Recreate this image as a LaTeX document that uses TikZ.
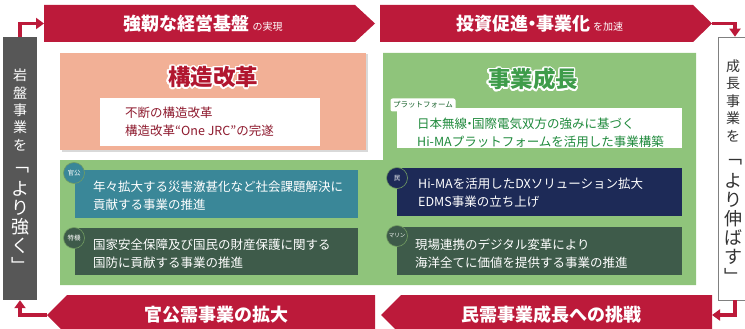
\documentclass[tikz,border=0pt]{standalone}
\usepackage{fontspec}
\setmainfont{Noto Sans CJK JP}
\usepackage[copies]{contour}
\contourlength{1.4pt}
\contournumber{20}
\usetikzlibrary{arrows.meta,shadows}
\definecolor{bannerred}{RGB}{188,26,58}
\definecolor{salmon}{RGB}{242,176,150}
\definecolor{leafgreen}{RGB}{143,196,123}
\definecolor{rockgray}{RGB}{87,87,87}
\definecolor{kanteal}{RGB}{58,135,152}
\definecolor{minnavy}{RGB}{29,42,87}
\definecolor{deepgreen}{RGB}{62,91,74}
\definecolor{titlered}{RGB}{177,22,47}
\definecolor{titlegreen}{RGB}{62,156,74}
\definecolor{textred}{RGB}{142,26,46}
\definecolor{textgreen}{RGB}{31,138,60}
\newcommand{\tdot}{\kern-0.3em・\kern-0.3em}
\tikzset{
  flow/.style={draw=bannerred, line width=3.5pt, -{Triangle[length=8pt,width=11pt]}},
  bannertext/.style={text=white, inner sep=0pt, font=\fontsize{18}{20}\selectfont\bfseries},
  boxtitle/.style={inner sep=0pt, font=\fontsize{22.5}{24}\selectfont\bfseries},
  itemtext/.style={anchor=west, align=left, inner sep=0pt, font=\fontsize{12.5}{18}\selectfont},
  badge/.style={circle, minimum size=21pt, inner sep=0pt, draw=leafgreen!80!black, line width=0.6pt, text=white, font=\fontsize{6.5}{7}\selectfont},
  vchar/.style={inner sep=0pt, font=\fontsize{14}{14}\selectfont},
  vbig/.style={inner sep=0pt, font=\fontsize{18}{18}\selectfont}
}
\begin{document}
\begin{tikzpicture}[x=1pt, y=-1pt]
\useasboundingbox (0,0) rectangle (745,329);
\coordinate (kyoujin-in) at (44,23.5); \coordinate (toushi-tip) at (712,23.5);
\coordinate (minju-in) at (712,315); \coordinate (kankou-tip) at (47,315);
\fill[bannerred] (44,5) -- (355,5) -- (375,23.5) -- (355,42) -- (44,42) -- cycle;
\fill[bannerred] (380,5) -- (693,5) -- (712,23.5) -- (693,42) -- (380,42) -- cycle;
\fill[bannerred] (47,315) -- (67,295) -- (375,295) -- (375,335) -- (67,335) -- cycle;
\fill[bannerred] (381,315) -- (401,295) -- (712,295) -- (712,335) -- (401,335) -- cycle;
\node[bannertext] (kyoujin) at (203,23.5) {強靭な経営基盤\,{\fontsize{10}{12}\selectfont\mdseries の実現}};
\node[bannertext] (toushi) at (540,23.5) {投資促進\tdot 事業化\,{\fontsize{10}{12}\selectfont\mdseries を加速}};
\node[bannertext] (kankou) at (216,315) {官公需事業の拡大};
\node[bannertext] (minju) at (551,315) {民需事業成長への挑戦};
\node[fill=rockgray, minimum width=34pt, minimum height=263pt, inner sep=0pt] (iwaban) at (20,168.5) {};
\node[fill=white, draw=gray, line width=0.6pt, minimum width=34pt, minimum height=263pt, inner sep=0pt] (nobasu) at (735,168.5) {};
\foreach \c [count=\i] in {岩,盤,事,業,を} \node[vchar, text=white] (iw\i) at (20,57.5+17.5*\i) {\c};
\foreach \c [count=\i] in {﹁,よ,り,強,く,﹂} \node[vbig, text=white] (tsuyo\i) at (20,151+19*\i) {\c};
\foreach \c [count=\i] in {成,長,事,業,を} \node[vchar, text=black!80] (sei\i) at (733,48.5+17.5*\i) {\c};
\foreach \c [count=\i] in {﹁,よ,り,伸,ば,す,﹂} \node[vbig, text=black!80] (nobi\i) at (733,143+19*\i) {\c};
\draw[flow] (iwaban.north) |- (kyoujin-in);
\draw[flow] (toushi-tip) -| (nobasu.north);
\draw[flow] (nobasu.south) |- (minju-in);
\draw[flow] (kankou-tip) -| (iwaban.south);
\fill[salmon, drop shadow={shadow xshift=1.5pt, shadow yshift=-1.5pt, opacity=.3}] (60,53) rectangle (366,150);
\fill[leafgreen] (60,160) -| (383,53) -| (696,285) -| cycle;
\node[boxtitle, text=titlered] (kouzou) at (213,78) {\contour{white}{構造改革}};
\fill[white] (100,98) rectangle (320,146);
\node[itemtext, text=textred] (kouzou-txt) at (125,122) {不断の構造改革\\構造改革“One JRC”の完遂};
\node[boxtitle, text=titlegreen] (seichou) at (533,80) {\contour{white}{事業成長}};
\fill[white] (397,108) rectangle (682,148);
\node[fill=white, rounded corners=2pt, minimum width=65pt, minimum height=13pt, inner sep=0pt, text=textgreen!70!black, font=\fontsize{7.5}{8}\selectfont] (pf) at (423,105) {プラットフォーム};
\node[itemtext, text=textgreen] (pf-txt) at (417,132.5) {日本無線\tdot 国際電気双方の強みに基づく\\Hi-MAプラットフォームを活用した事業構築};
\fill[kanteal] (75,170) rectangle (358,218);
\fill[deepgreen] (75,228) rectangle (358,275);
\fill[minnavy] (397,168) rectangle (682,216);
\fill[deepgreen] (397,227) rectangle (682,275);
\node[itemtext, text=white] (kan-txt) at (93,196) {年々拡大する災害激甚化など社会課題解決に\\貢献する事業の推進};
\node[itemtext, text=white] (toku-txt) at (93,254) {国家安全保障及び国民の財産保護に関する\\国防に貢献する事業の推進};
\node[itemtext, text=white] (min-txt) at (418,193) {Hi-MAを活用したDXソリューション拡大\\EDMS事業の立ち上げ};
\node[itemtext, text=white] (marine-txt) at (415,254) {現場連携のデジタル変革により\\海洋全てに価値を提供する事業の推進};
\node[badge, fill=kanteal] (kan) at (74,173) {官公};
\node[badge, fill=deepgreen] (toku) at (74,238) {特機};
\node[badge, fill=minnavy] (min) at (397,178) {民};
\node[badge, fill=deepgreen, font=\fontsize{5.5}{6}\selectfont] (marine) at (397,236) {マリン};
\end{tikzpicture}
\end{document}
